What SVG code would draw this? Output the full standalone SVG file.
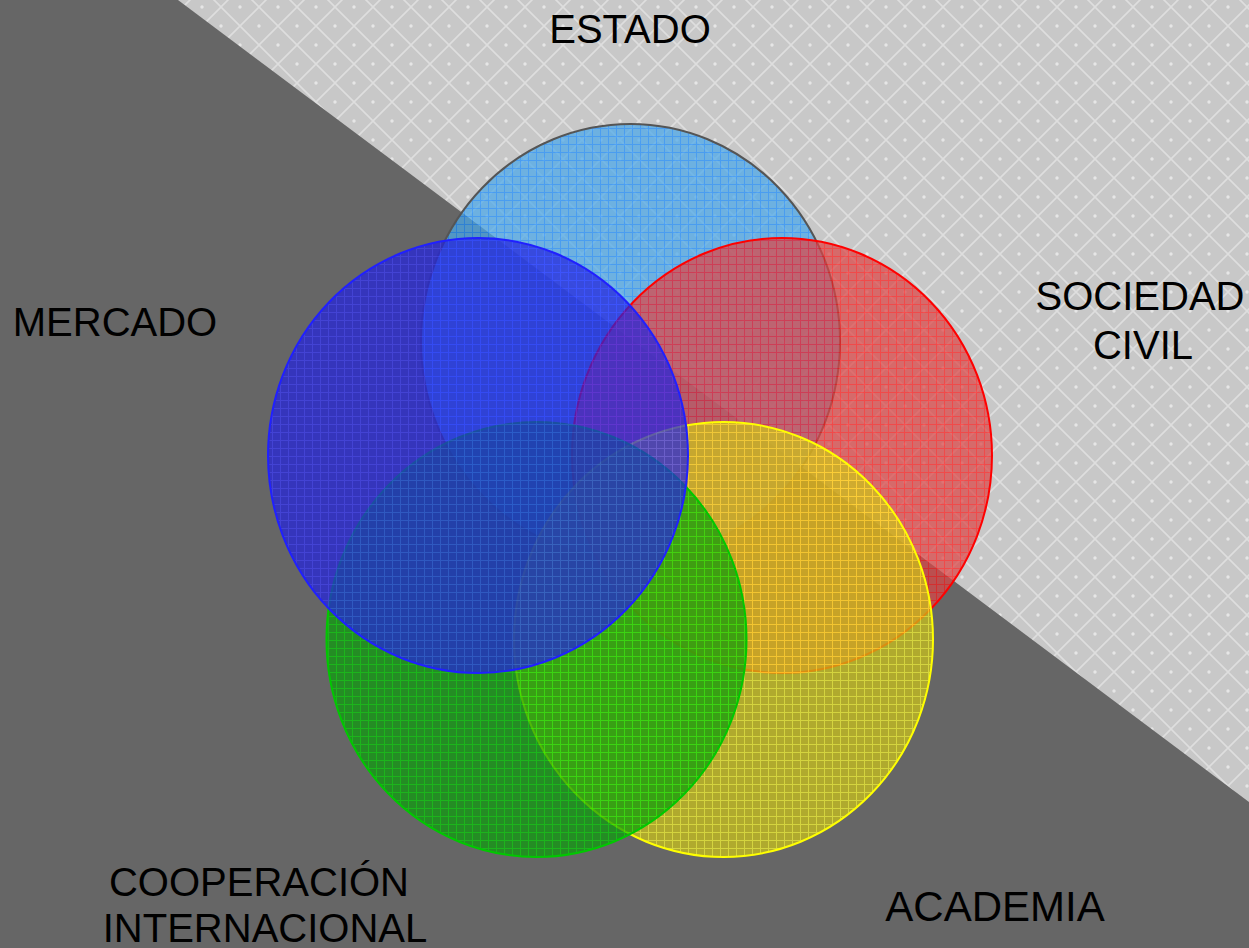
<svg xmlns="http://www.w3.org/2000/svg" width="1249" height="948" viewBox="0 0 1249 948">
<style>
.lbl{font-family:"Liberation Sans",Arial,sans-serif;font-size:40px;fill:#000;text-anchor:middle}
.c{fill-opacity:0.72;stroke-width:2}
</style>
<defs>
<pattern id="bgpat" patternUnits="userSpaceOnUse" x="31" y="7" width="38" height="38">
<rect width="38" height="38" fill="#c8c8c8"/>
<path d="M0 0L38 38M38 0L0 38" stroke="#dedede" stroke-width="1.6"/>
<circle cx="19" cy="0" r="1.7" fill="#e6e6e6"/>
<circle cx="19" cy="38" r="1.7" fill="#e6e6e6"/>
<circle cx="0" cy="19" r="1.7" fill="#e6e6e6"/>
<circle cx="38" cy="19" r="1.7" fill="#e6e6e6"/>
</pattern>
<pattern id="pBlue" patternUnits="userSpaceOnUse" width="8" height="8">
<rect width="8" height="8" fill="#2222dd"/>
<path d="M0 0.5H8M0.5 0V8" stroke="#3636ff" stroke-width="1"/>
</pattern>
<pattern id="pSky" patternUnits="userSpaceOnUse" width="8" height="8">
<rect width="8" height="8" fill="#4aa8ea"/>
<path d="M0 0.5H8M0.5 0V8" stroke="#1a8cff" stroke-width="1"/>
</pattern>
<pattern id="pRed" patternUnits="userSpaceOnUse" width="8" height="8">
<rect width="8" height="8" fill="#dc4646"/>
<path d="M0 0.5H8M0.5 0V8" stroke="#ff1a1a" stroke-width="1"/>
</pattern>
<pattern id="pYel" patternUnits="userSpaceOnUse" width="8" height="8">
<rect width="8" height="8" fill="#ccc418"/>
<path d="M0 0.5H8M0.5 0V8" stroke="#ffff30" stroke-width="1"/>
</pattern>
<pattern id="pGrn" patternUnits="userSpaceOnUse" width="8" height="8">
<rect width="8" height="8" fill="#0a9c0a"/>
<path d="M0 0.5H8M0.5 0V8" stroke="#00d400" stroke-width="1"/>
</pattern>
</defs>
<rect width="1249" height="948" fill="#666666"/>
<polygon points="178,0 1249,0 1249,802" fill="url(#bgpat)"/>
<g id="estado">
<ellipse class="c" cx="630.5" cy="341.5" rx="209.5" ry="217.5" fill="url(#pSky)" stroke="#555555"/>
</g>
<g id="sociedad-civil">
<ellipse class="c" cx="782" cy="455.5" rx="210" ry="217.5" fill="url(#pRed)" stroke="#ff0000"/>
</g>
<g id="academia">
<ellipse class="c" cx="723.5" cy="639.5" rx="209.5" ry="217.5" fill="url(#pYel)" stroke="#ffff00"/>
</g>
<g id="cooperacion">
<ellipse class="c" cx="536.5" cy="639.5" rx="210" ry="217.5" fill="url(#pGrn)" stroke="#00c800"/>
</g>
<g id="mercado">
<ellipse class="c" cx="478" cy="455.5" rx="210" ry="217.5" fill="url(#pBlue)" stroke="#2020ff"/>
</g>
<g id="connectors"></g>
<g id="labels">
<text class="lbl" x="630" y="43">ESTADO</text>
<text class="lbl" x="115" y="336">MERCADO</text>
<text class="lbl" x="1140" y="310">SOCIEDAD</text>
<text class="lbl" x="1143" y="359">CIVIL</text>
<text class="lbl" x="259" y="896">COOPERACIÓN</text>
<text class="lbl" x="265" y="942">INTERNACIONAL</text>
<text class="lbl" x="995" y="921" style="font-size:42px">ACADEMIA</text>
</g>
</svg>
